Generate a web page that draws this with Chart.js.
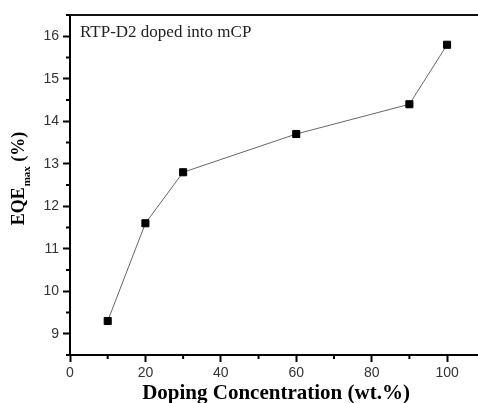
<!DOCTYPE html>
<html>
<head>
<meta charset="utf-8">
<title>EQE vs doping</title>
<script src="https://cdn.jsdelivr.net/npm/chart.js@4/dist/chart.umd.min.js"></script>
<style>
  html, body { margin: 0; padding: 0; background: #fff; }
  #wrap { width: 478px; height: 403px; }
</style>
</head>
<body>
<div id="wrap"><canvas id="eqeChart" width="478" height="403"></canvas></div>
<script>
// doping concentration (wt.%) and max EQE (%)
var doping = [10, 20, 30, 60, 90, 100];
var eqeMax = [9.3, 11.6, 12.8, 13.7, 14.4, 15.8];

var xTicks = [0, 20, 40, 60, 80, 100];
var xMinor = [10, 30, 50, 70, 90];
var yTicks = [9, 10, 11, 12, 13, 14, 15, 16];
var yMinor = [8.5, 9.5, 10.5, 11.5, 12.5, 13.5, 14.5, 15.5, 16.5];

(function() {
	"use strict";

	var tickFont = { family: 'Liberation Sans', size: 14 };

	// frame top line, minor ticks, note and axis titles
	var decorations = {
		id: 'decorations',
		afterDraw: function(chart) {
			var ctx = chart.ctx;
			var area = chart.chartArea;
			var xs = chart.scales.x;
			var ys = chart.scales.y;

			ctx.save();
			ctx.strokeStyle = '#111';
			ctx.lineWidth = 2;
			ctx.beginPath();
			ctx.moveTo(area.left - 1, area.top);
			ctx.lineTo(area.right, area.top);
			ctx.stroke();

			ctx.strokeStyle = '#000';
			ctx.beginPath();
			xMinor.forEach(function(v) {
				var px = xs.getPixelForValue(v);
				ctx.moveTo(px, area.bottom);
				ctx.lineTo(px, area.bottom + 4);
			});
			yMinor.forEach(function(v) {
				var py = ys.getPixelForValue(v);
				ctx.moveTo(area.left, py);
				ctx.lineTo(area.left - 4, py);
			});
			ctx.stroke();

			// note in the upper left corner
			ctx.fillStyle = '#222';
			ctx.font = '17px "Liberation Serif"';
			ctx.textAlign = 'left';
			ctx.textBaseline = 'alphabetic';
			ctx.fillText('RTP-D2 doped into mCP', area.left + 10, area.top + 22);

			// x title
			ctx.fillStyle = '#000';
			ctx.font = 'bold 21px "Liberation Serif"';
			ctx.textAlign = 'center';
			ctx.fillText('Doping Concentration (wt.%)', 276, 399);

			// y title with subscript, rotated
			var big = 'bold 18px "Liberation Serif"';
			var small = 'bold 11px "Liberation Serif"';
			ctx.font = big;
			var w1 = ctx.measureText('EQE').width;
			var w3 = ctx.measureText(' (%)').width;
			ctx.font = small;
			var w2 = ctx.measureText('max').width;
			var total = w1 + w2 + w3;

			ctx.translate(24, 179);
			ctx.rotate(-Math.PI / 2);
			ctx.textAlign = 'left';
			var sx = -total / 2;
			ctx.font = big;
			ctx.fillText('EQE', sx, 0);
			ctx.font = small;
			ctx.fillText('max', sx + w1 + 1, 6);
			ctx.font = big;
			ctx.fillText(' (%)', sx + w1 + w2 + 1, 0);
			ctx.restore();
		}
	};

	var points = doping.map(function(d, i) { return { x: d, y: eqeMax[i] }; });

	new Chart(document.getElementById('eqeChart').getContext('2d'), {
		type: 'scatter',
		data: {
			datasets: [{
				data: points,
				showLine: true,
				borderColor: '#666',
				borderWidth: 1,
				pointStyle: 'rect',
				pointRadius: 5,
				pointBorderWidth: 1,
				pointBorderColor: '#000',
				pointBackgroundColor: '#000'
			}]
		},
		options: {
			responsive: false,
			animation: false,
			layout: { autoPadding: false, padding: { top: 15, right: 0, left: 0, bottom: 0 } },
			plugins: {
				legend: { display: false },
				tooltip: { enabled: false }
			},
			scales: {
				x: {
					type: 'linear',
					min: 0,
					max: 108.2,
					afterBuildTicks: function(scale) {
						scale.ticks = xTicks.map(function(v) { return { value: v }; });
					},
					afterFit: function(scale) { scale.height = 48; },
					grid: {
						drawOnChartArea: false,
						drawTicks: true,
						tickLength: 7,
						tickWidth: 2,
						tickColor: '#000'
					},
					border: { display: true, color: '#000', width: 2 },
					ticks: { color: '#333', font: tickFont, padding: 3, maxRotation: 0 }
				},
				y: {
					type: 'linear',
					min: 8.5,
					max: 16.5,
					afterBuildTicks: function(scale) {
						scale.ticks = yTicks.map(function(v) { return { value: v }; });
					},
					afterFit: function(scale) { scale.width = 70; },
					grid: {
						drawOnChartArea: false,
						drawTicks: true,
						tickLength: 7,
						tickWidth: 2,
						tickColor: '#000'
					},
					border: { display: true, color: '#000', width: 2 },
					ticks: { color: '#333', font: tickFont, padding: 4 }
				}
			}
		},
		plugins: [decorations]
	});
})();
</script>
</body>
</html>
